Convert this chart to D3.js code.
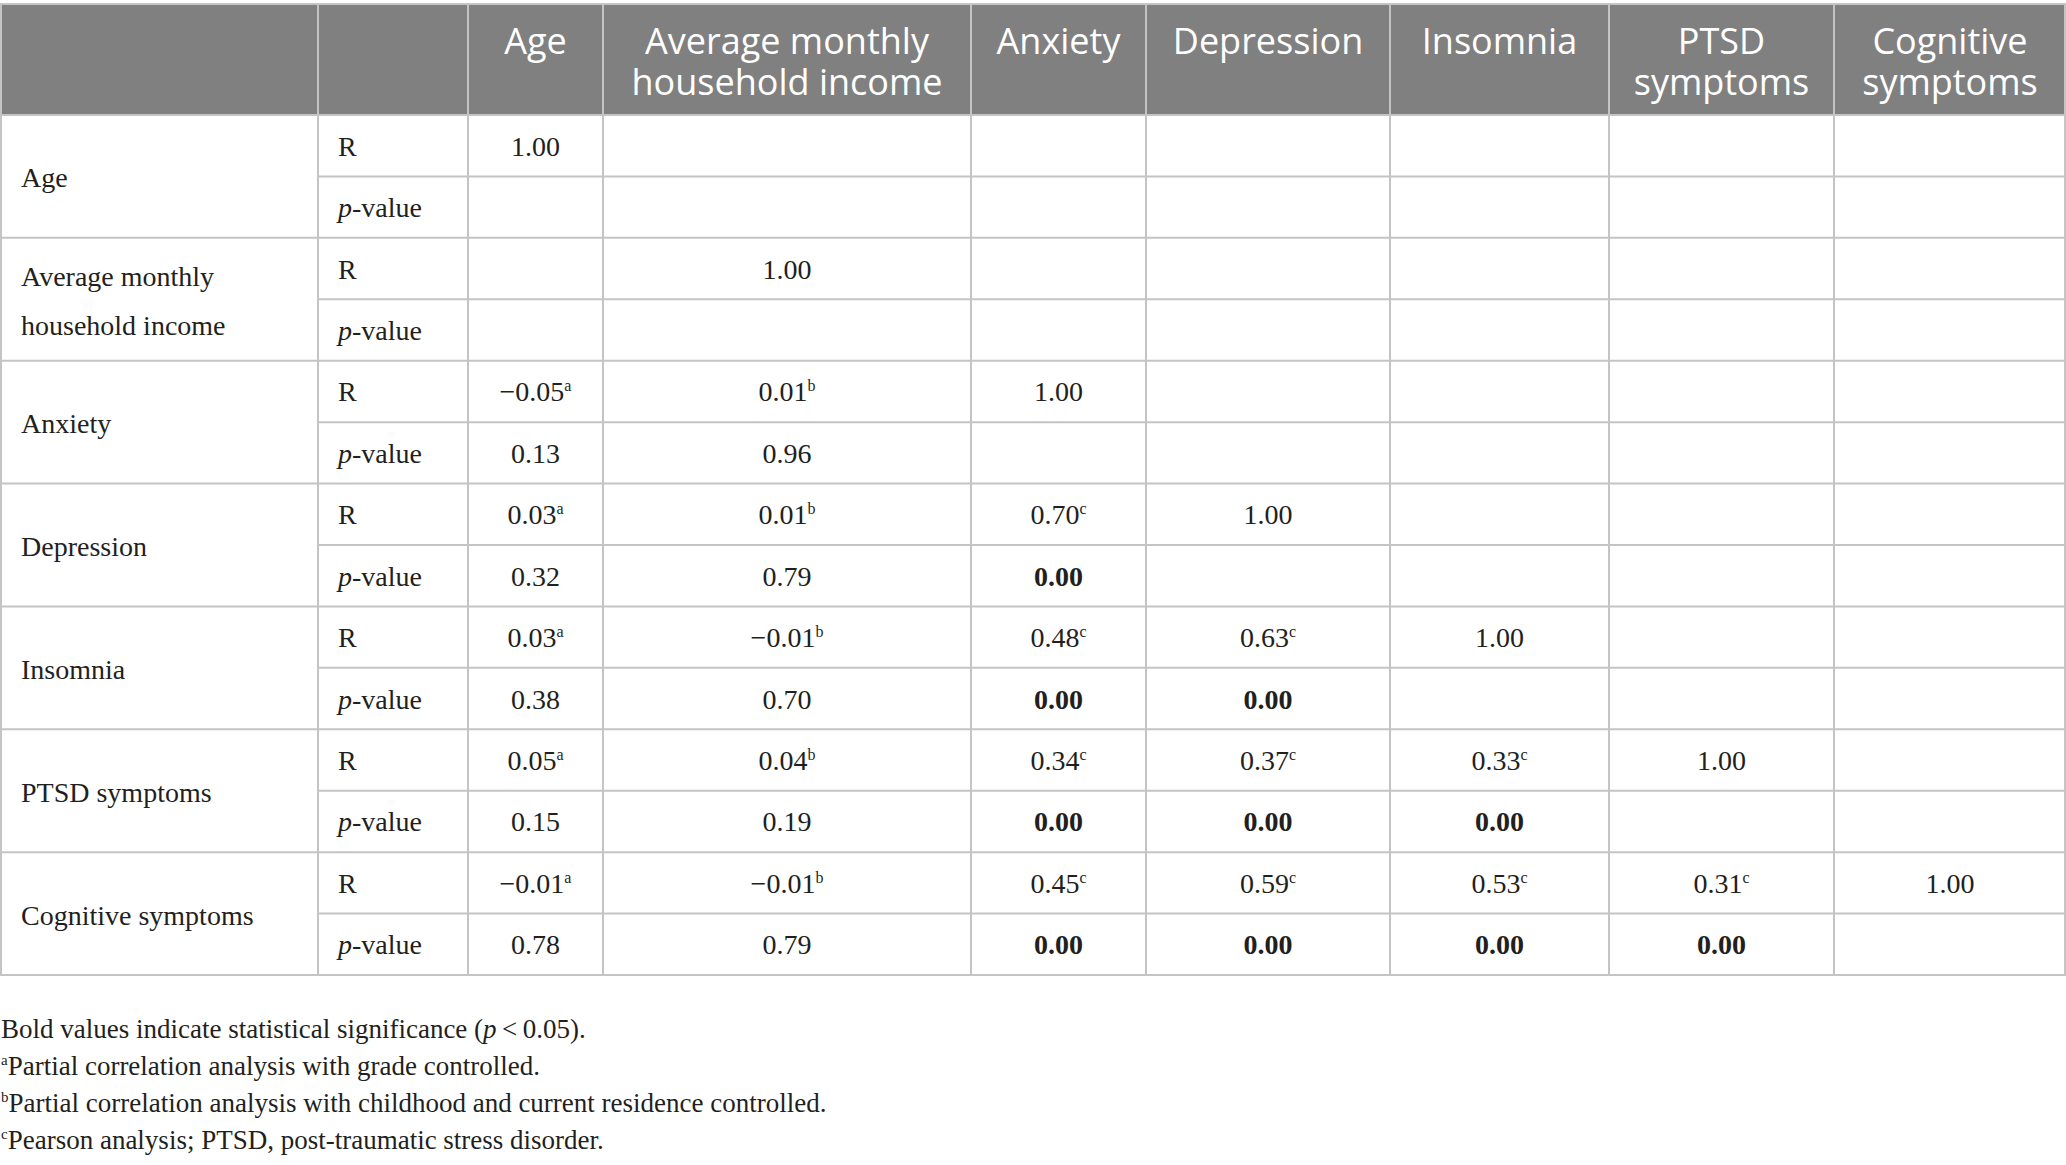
<!DOCTYPE html>
<html>
<head>
<meta charset="utf-8">
<script src="https://cdn.jsdelivr.net/npm/d3@7"></script>
<style>
  body { margin: 0; background: #fff; }
  svg { display: block; }
</style>
</head>
<body>
<div id="app"></div>
<script>
// table content
var variables = ['Age', 'Average monthly household income', 'Anxiety', 'Depression', 'Insomnia', 'PTSD symptoms', 'Cognitive symptoms'];
var headerLines = [['Age'], ['Average monthly', 'household income'], ['Anxiety'], ['Depression'], ['Insomnia'], ['PTSD', 'symptoms'], ['Cognitive', 'symptoms']];
var rowLabelLines = [['Age'], ['Average monthly', 'household income'], ['Anxiety'], ['Depression'], ['Insomnia'], ['PTSD symptoms'], ['Cognitive symptoms']];
var statLabels = ['R', 'p-value'];
var superscripts = ['a', 'b', 'c', 'c', 'c', 'c', 'c'];

var rValues = [
  [1.00],
  [null, 1.00],
  [-0.05, 0.01, 1.00],
  [0.03, 0.01, 0.70, 1.00],
  [0.03, -0.01, 0.48, 0.63, 1.00],
  [0.05, 0.04, 0.34, 0.37, 0.33, 1.00],
  [-0.01, -0.01, 0.45, 0.59, 0.53, 0.31, 1.00]
];
var pValues = [
  [],
  [],
  [0.13, 0.96],
  [0.32, 0.79, 0.00],
  [0.38, 0.70, 0.00, 0.00],
  [0.15, 0.19, 0.00, 0.00, 0.00],
  [0.78, 0.79, 0.00, 0.00, 0.00, 0.00]
];
var footnoteMarks = ['', 'a', 'b', 'c'];
var footnotes = [
  'Bold values indicate statistical significance (',
  'Partial correlation analysis with grade controlled.',
  'Partial correlation analysis with childhood and current residence controlled.',
  'Pearson analysis; PTSD, post-traumatic stress disorder.'
];

////////////////////////////////////////
var width = 2066, height = 1165;
var serif = '"Liberation Serif", "Times New Roman", serif';
var sans = '"Open Sans", "Noto Sans", sans-serif';
var lineColor = '#c4c4c4';
var textColor = '#231f20';
var fmt = d3.format('.2f');

var svg = d3.select('#app')
  .append('svg')
    .attr('width', width)
    .attr('height', height);

svg.append('rect')
    .attr('width', width)
    .attr('height', height)
    .attr('fill', '#fff');

var colKeys = ['label', 'stat'].concat(variables);
var colEdges = [0, 318, 468, 603, 971, 1146, 1390, 1609, 1834, 2066];
var colX = d3.scaleOrdinal().domain(colKeys).range(colEdges.slice(0, -1));
var colW = d3.scaleOrdinal().domain(colKeys).range(colEdges.slice(1).map(function(e, i) { return e - colEdges[i]; }));
function colMid(k) { return colX(k) + colW(k) / 2; }

var headTop = 4, headBottom = 115, tableBottom = 975;
var y = d3.scaleBand()
    .domain(d3.range(variables.length * 2))
    .range([headBottom, tableBottom]);
var rowH = y.bandwidth();

// header
svg.append('rect')
    .attr('x', 0)
    .attr('y', headTop)
    .attr('width', width)
    .attr('height', headBottom - headTop)
    .attr('fill', '#808080');

var head = svg.append('g').attr('class', 'header');
variables.forEach(function(v, i) {
  headerLines[i].forEach(function(line, j) {
    head.append('text')
        .attr('x', colMid(v))
        .attr('y', 54 + j * 41)
        .attr('text-anchor', 'middle')
        .attr('fill', '#fff')
        .style('font-family', sans)
        .style('font-size', '36px')
        .text(line);
  });
});

// grid lines
var grid = svg.append('g').attr('class', 'grid')
    .attr('stroke', lineColor)
    .attr('stroke-width', 2);

grid.append('line')
    .attr('x1', 0).attr('x2', width)
    .attr('y1', headTop).attr('y2', headTop);
grid.append('line')
    .attr('x1', 0).attr('x2', width)
    .attr('y1', headBottom).attr('y2', headBottom);

grid.selectAll('line.row')
    .data(y.domain())
  .enter().append('line')
    .attr('class', 'row')
    .attr('x1', function(i) { return i % 2 === 1 ? 0 : colX('stat'); })
    .attr('x2', width)
    .attr('y1', function(i) { return y(i) + rowH; })
    .attr('y2', function(i) { return y(i) + rowH; });

grid.selectAll('line.col')
    .data(colEdges)
  .enter().append('line')
    .attr('class', 'col')
    .attr('x1', function(e) { return Math.min(Math.max(e, 1), width - 1); })
    .attr('x2', function(e) { return Math.min(Math.max(e, 1), width - 1); })
    .attr('y1', headTop)
    .attr('y2', tableBottom);

// body
var body = svg.append('g').attr('class', 'body')
    .attr('fill', textColor)
    .style('font-family', serif)
    .style('font-size', '28px');

variables.forEach(function(v, i) {
  var rowR = i * 2, rowP = i * 2 + 1;
  var groupMid = y(rowR) + rowH;
  var lines = rowLabelLines[i];
  lines.forEach(function(line, j) {
    body.append('text')
        .attr('x', 21)
        .attr('y', groupMid + 11 + (j - (lines.length - 1) / 2) * 49)
        .text(line);
  });

  // stat labels
  body.append('text')
      .attr('x', colX('stat') + 20)
      .attr('y', y(rowR) + rowH / 2 + 10)
      .text(statLabels[0]);
  var pl = body.append('text')
      .attr('x', colX('stat') + 20)
      .attr('y', y(rowP) + rowH / 2 + 10);
  pl.append('tspan').style('font-style', 'italic').text('p');
  pl.append('tspan').text('-value');

  // R values
  rValues[i].forEach(function(r, j) {
    if (r === null) return;
    var key = variables[j];
    var t = body.append('text')
        .attr('x', colMid(key))
        .attr('y', y(rowR) + rowH / 2 + 10)
        .attr('text-anchor', 'middle');
    t.append('tspan').text(fmt(r));
    if (i !== j) {
      t.append('tspan')
          .attr('dy', -10)
          .style('font-size', '16px')
          .text(superscripts[j]);
    }
  });

  // p values
  pValues[i].forEach(function(p, j) {
    if (p === null) return;
    var key = variables[j];
    body.append('text')
        .attr('x', colMid(key))
        .attr('y', y(rowP) + rowH / 2 + 10)
        .attr('text-anchor', 'middle')
        .style('font-weight', p < 0.05 ? 'bold' : 'normal')
        .text(fmt(p));
  });
});

// footnotes
var notes = svg.append('g').attr('class', 'notes')
    .attr('fill', textColor)
    .style('font-family', serif)
    .style('font-size', '27px');

footnotes.forEach(function(f, i) {
  var t = notes.append('text')
      .attr('x', 1)
      .attr('y', 1038 + i * 37);
  if (footnoteMarks[i]) {
    t.append('tspan')
        .attr('dy', -10)
        .style('font-size', '15px')
        .text(footnoteMarks[i]);
    t.append('tspan').attr('dy', 10).text(f);
  } else {
    t.append('tspan').text(f);
    t.append('tspan').style('font-style', 'italic').text('p');
    t.append('tspan').text('\u2009<\u20090.05).');
  }
});
</script>
</body>
</html>
